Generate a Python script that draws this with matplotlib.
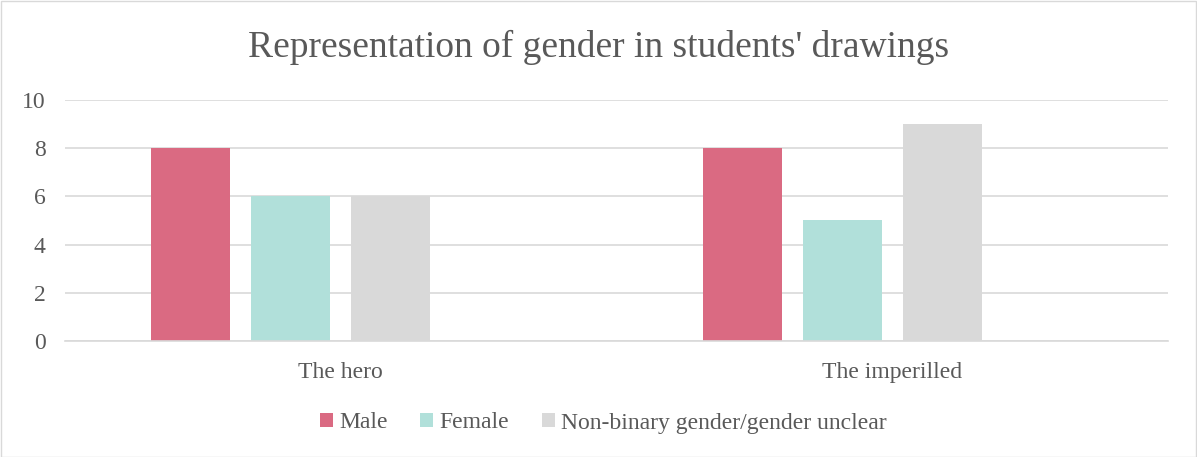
import numpy as np
import matplotlib.pyplot as plt
from matplotlib.patches import Rectangle

categories = ["The hero", "The imperilled"]
series = ["Male", "Female", "Non-binary gender/gender unclear"]
male = [8, 8]
female = [6, 5]
nonbinary = [6, 9]
colors = ["#DA6A82", "#B1E0DA", "#D9D9D9"]

plt.rcParams['font.family'] = ['Liberation Serif', 'DejaVu Serif']

W, H = 1197, 457
fig = plt.figure(figsize=(W / 100, H / 100), dpi=100)
fig.patches.append(Rectangle((0.5 / W, 0.5 / H), 1 - 1.5 / W, 1 - 1.5 / H,
                             transform=fig.transFigure, fill=False,
                             edgecolor="#D9D9D9", linewidth=1))

left, right, bottom, top = 65, 1168, 341, 100
ax = fig.add_axes([left / W, 1 - bottom / H, (right - left) / W, (bottom - top) / H])

x = np.arange(len(categories))
step = 100 / (right - left) * len(categories)
width = 79 / (right - left) * len(categories)
for i, (name, vals) in enumerate(zip(series, [male, female, nonbinary])):
    ax.bar(x + (i - 1.5) * step, vals, width, color=colors[i], label=name, zorder=2)

ax.set_xlim(-0.5, len(categories) - 0.5)
ax.set_ylim(0, 10)
ax.set_yticks(range(0, 11, 2))
ax.grid(axis="y", color="#D9D9D9", linewidth=1.2, zorder=0)
ax.set_axisbelow(True)
for s in ["top", "right", "left"]:
    ax.spines[s].set_visible(False)
ax.spines["bottom"].set_color("#D9D9D9")
ax.spines["bottom"].set_linewidth(1.2)
ax.set_xticks(x)
ax.set_xticklabels(categories)
ax.tick_params(axis="both", length=0, labelsize=17, colors="#595959")
ax.tick_params(axis="x", pad=15)
ax.tick_params(axis="y", pad=14)

fig.text(0.5, 1 - 47 / H, "Representation of gender in students' drawings",
         ha="center", va="center", fontsize=27, color="#595959")

fig.legend(loc="center", bbox_to_anchor=(0.504, 1 - 423 / H), ncol=3, frameon=False,
           fontsize=17, labelcolor="#595959", handlelength=0.55, handleheight=0.55,
           handletextpad=0.25, columnspacing=1.4)

fig.savefig("out.png", dpi=100)
